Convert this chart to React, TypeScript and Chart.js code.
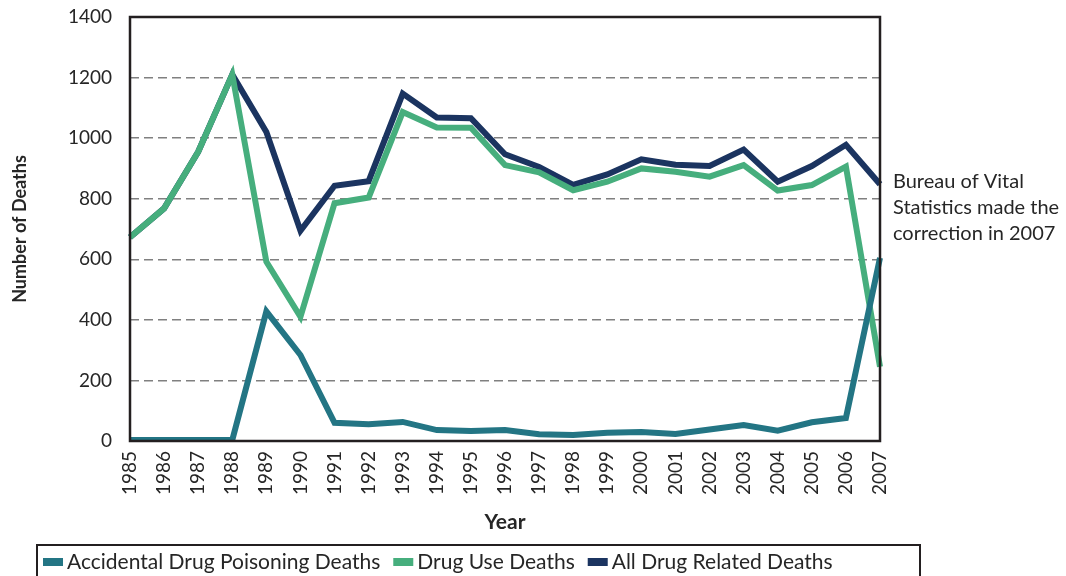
import React, { useEffect, useRef } from "react";
import { Chart, registerables } from "chart.js";

Chart.register(...registerables);

const years = ["1985","1986","1987","1988","1989","1990","1991","1992","1993","1994","1995","1996","1997","1998","1999","2000","2001","2002","2003","2004","2005","2006","2007"];
const accidentalDeaths = [3,3,3,3,428,284,60,55,63,36,33,36,22,20,27,30,23,38,53,34,62,76,605];
const drugUseDeaths = [673,768,955,1210,592,410,785,804,1086,1035,1034,911,887,828,856,900,889,873,911,827,845,906,245];
const allDrugDeaths = [673,768,955,1210,1020,694,843,858,1147,1068,1066,947,905,846,880,930,912,908,962,856,908,978,848];
const seriesLabels = ["Accidental Drug Poisoning Deaths", "Drug Use Deaths", "All Drug Related Deaths"];
const seriesColors = ["#237584", "#46ae7d", "#1b3460"];
const annotationLines = ["Bureau of Vital", "Statistics made the", "correction in 2007"];

const FONT = "Lato, 'Open Sans', sans-serif";
const TEXT = "#262626";

const framePlugin = {
  id: "frame",
  afterDraw(chart: any) {
    const { ctx, chartArea } = chart;
    ctx.save();
    ctx.strokeStyle = "#231f20";
    ctx.lineWidth = 2.5;
    ctx.strokeRect(chartArea.left, chartArea.top, chartArea.right - chartArea.left, chartArea.bottom - chartArea.top);
    ctx.fillStyle = TEXT;
    ctx.font = `20px ${FONT}`;
    ctx.textBaseline = "middle";
    ctx.textAlign = "left";
    annotationLines.forEach((t, i) => ctx.fillText(t, chartArea.right + 13, 182 + i * 26));
    ctx.lineWidth = 2;
    ctx.strokeRect(37, 545, 883, 45);
    ctx.font = `21px ${FONT}`;
    let x = 43;
    const cy = 562;
    chart.data.datasets.forEach((ds: any) => {
      ctx.fillStyle = ds.borderColor;
      ctx.fillRect(x, cy - 4, 20, 8);
      x += 24;
      ctx.fillStyle = TEXT;
      ctx.fillText(ds.label, x, cy);
      x += ctx.measureText(ds.label).width + 13;
    });
    ctx.restore();
  },
};

export default function App() {
  const ref = useRef<HTMLCanvasElement | null>(null);
  useEffect(() => {
    if (!ref.current) return;
    const chart = new Chart(ref.current, {
      type: "line",
      data: {
        labels: years,
        datasets: [accidentalDeaths, drugUseDeaths, allDrugDeaths].map((d, i) => ({
          label: seriesLabels[i],
          data: d,
          borderColor: seriesColors[i],
          backgroundColor: seriesColors[i],
          borderWidth: 6,
          pointRadius: 0,
          tension: 0,
          fill: false,
        })),
      },
      options: {
        animation: false,
        responsive: false,
        layout: { padding: { left: 0, right: 186, top: 17, bottom: 35 } },
        plugins: { legend: { display: false }, tooltip: { enabled: false } },
        scales: {
          x: {
            offset: false,
            grid: { display: false, drawTicks: false },
            border: { display: false },
            ticks: { minRotation: 90, maxRotation: 90, autoSkip: false, padding: 10, color: TEXT, font: { family: FONT, size: 19 } },
            title: { display: true, text: "Year", color: TEXT, font: { family: FONT, size: 21, weight: "bold" }, padding: { top: 0, bottom: 6 } },
            afterFit(scale: any) {
              scale.height = 100;
              scale.paddingLeft = 0;
              scale.paddingRight = 0;
            },
          },
          y: {
            min: 0,
            max: 1400,
            ticks: { stepSize: 200, padding: 18, color: TEXT, font: { family: FONT, size: 19 }, callback: (v: any) => String(v) },
            grid: { color: "#808080", lineWidth: 1.5, drawTicks: false },
            border: { display: false, dash: [9, 5] },
            title: { display: true, text: "Number of Deaths", color: TEXT, font: { family: FONT, size: 18, weight: "bold" }, padding: { top: 9, bottom: 0 } },
            afterFit(scale: any) {
              scale.width = 130;
              scale.paddingTop = 0;
              scale.paddingBottom = 0;
            },
          },
        },
      },
      plugins: [framePlugin],
    } as any);
    return () => chart.destroy();
  }, []);
  return (
    <div style={{ position: "absolute", left: 0, top: 0, width: 1066, height: 576, background: "#fff" }}>
      <canvas ref={ref} width={1066} height={576} />
    </div>
  );
}
